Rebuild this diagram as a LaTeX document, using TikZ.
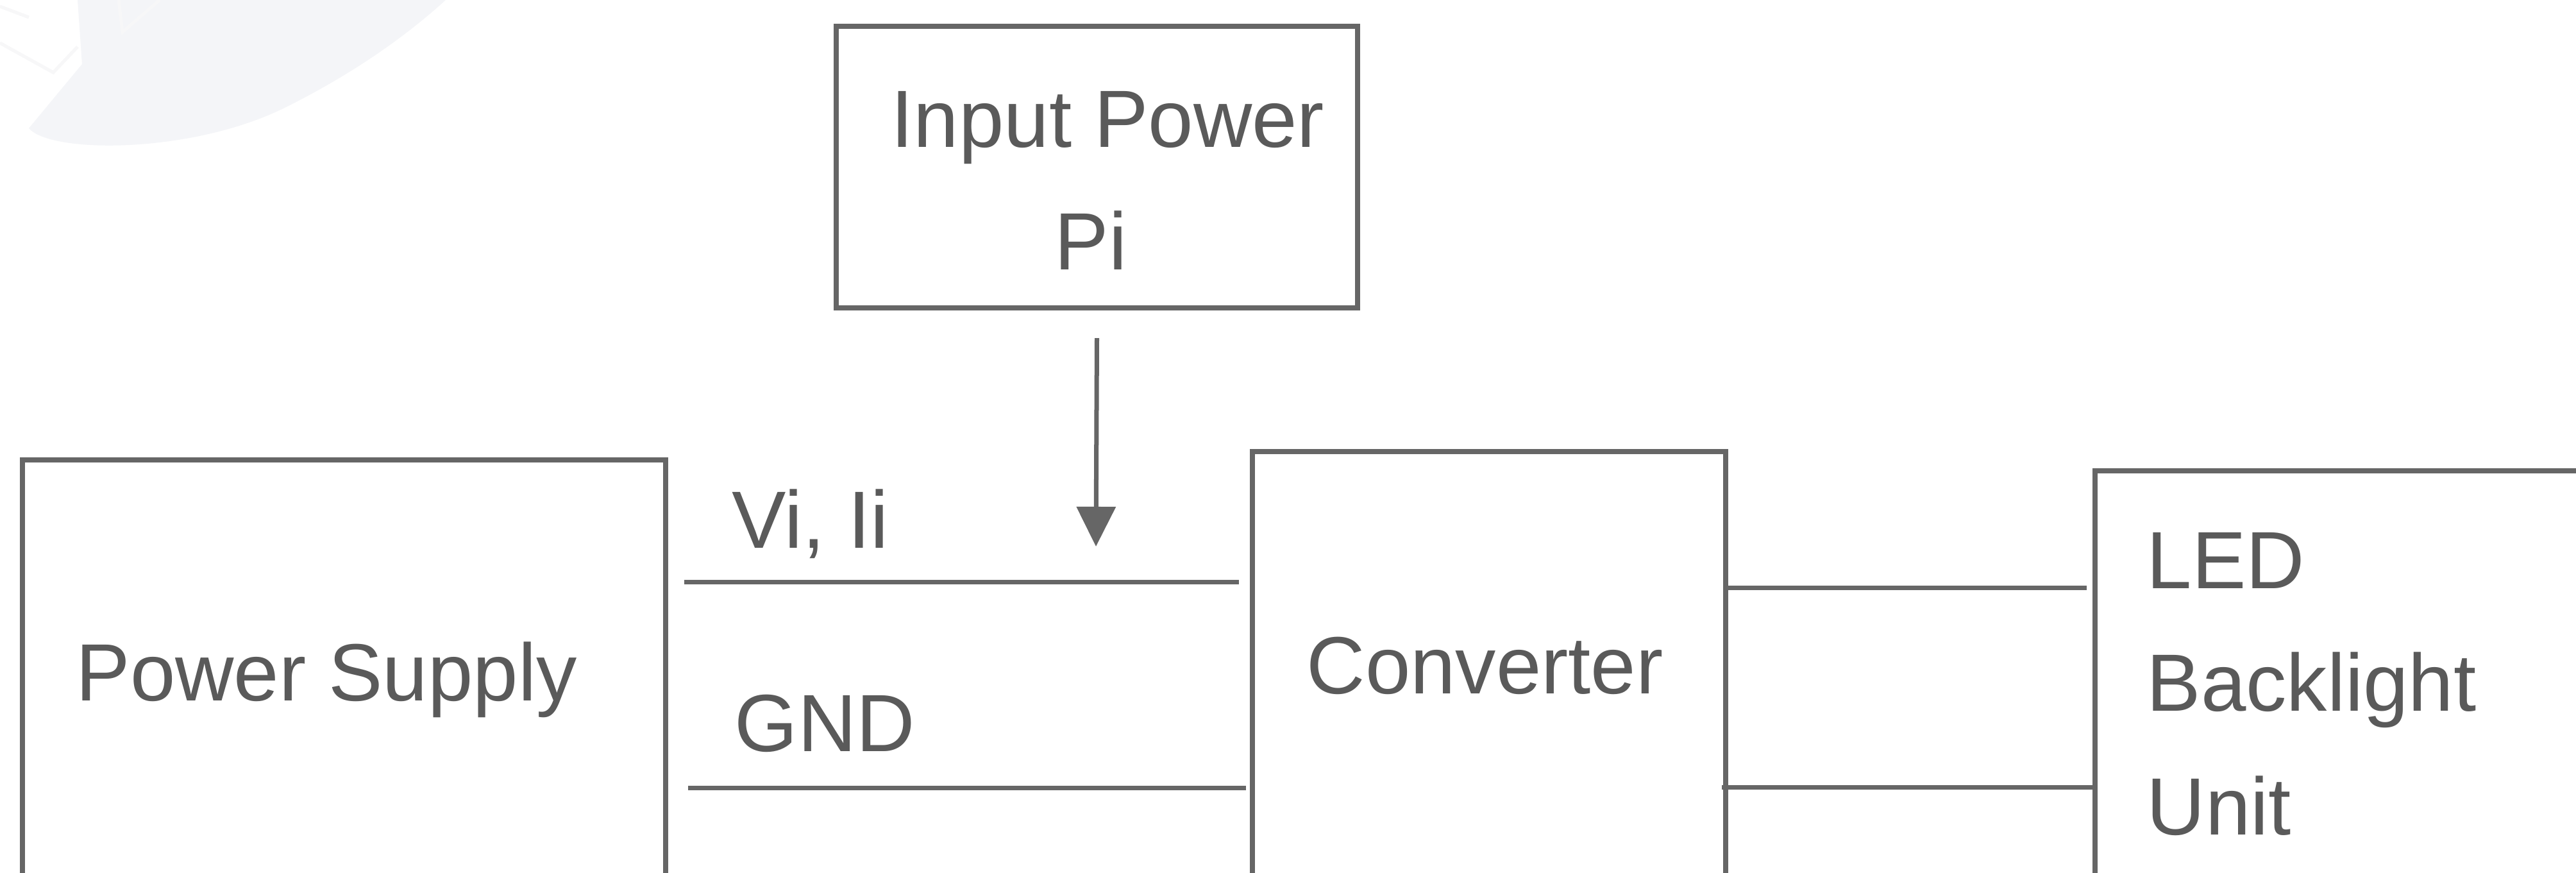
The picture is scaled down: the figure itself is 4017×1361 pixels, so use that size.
\documentclass[tikz,border=0pt]{standalone}
\usepackage{fontspec}
\setmainfont{Liberation Sans}
\usetikzlibrary{arrows.meta,calc}
\definecolor{linegray}{HTML}{666666}
\definecolor{textgray}{HTML}{5A5A5A}
\definecolor{wmfill}{HTML}{F4F5F8}
\definecolor{wmline}{HTML}{F7F7F8}
\begin{document}
\begin{tikzpicture}[x=0.01cm, y=-0.01cm,
	block/.style={draw=linegray, line width=0.08cm, inner sep=0},
	wire/.style={draw=linegray, line width=0.07cm},
	arrow/.style={draw=linegray, line width=0.07cm, -{Triangle[length=0.62cm, width=0.6cm]}},
	lbl/.style={text=textgray, inner sep=0, anchor=base west, font=\fontsize{36}{54}\selectfont}]
	\useasboundingbox (0,0) rectangle (4017,1361);
	\clip (0,0) rectangle (4017,1361);
	\fill[white] (0,0) rectangle (4017,1361);
	% faint watermark
	\fill[wmfill] (121,0) -- (128,100) -- (45,200) .. controls (80,240) and (300,240) .. (446,167) .. controls (560,110) and (640,50) .. (695,0) -- cycle;
	\draw[wmline, line width=0.05cm] (0,10) -- (45,27) (0,67) -- (83,113) -- (121,73) (185,0) -- (191,50) -- (249,0);
	% boxes
	\node[block, minimum width=10.03cm, minimum height=6.68cm] (ps) at (536.5,1051) {};
	\node[block, minimum width=7.38cm, minimum height=6.8cm] (conv) at (2322,1044) {};
	\node[block, minimum width=8.33cm, minimum height=6.63cm] (led) at (3683.5,1065.5) {};
	\node[block, minimum width=8.13cm, minimum height=4.39cm] (inp) at (1710.5,260.5) {};
	% texts
	\node[lbl] (pstext) at (118,1092) {Power Supply};
	\node[lbl] (convtext) at (2037,1081) {Converter};
	\node[lbl] (inptext) at (1389,230) {Input Power};
	\node[lbl] (pitext) at (1644,421) {Pi};
	\node[lbl] (ledtext) at (3347,917) {LED};
	\node[lbl] (bltext) at (3347,1108) {Backlight};
	\node[lbl] (unittext) at (3347,1301) {Unit};
	\node[lbl] (vitext) at (1141,854) {Vi, Ii};
	\node[lbl] (gndtext) at (1145,1171) {GND};
	% wires
	\coordinate (vi) at (0,907);
	\coordinate (gnd) at (0,1228);
	\coordinate (out1) at (0,916);
	\coordinate (out2) at (0,1227);
	\coordinate (tip) at (1709,852);
	\draw[wire, shorten <=0.25cm, shorten >=0.17cm] (ps.east |- vi) -- (conv.west |- vi);
	\draw[wire, shorten <=0.31cm, shorten >=0.06cm] (ps.east |- gnd) -- (conv.west |- gnd);
	\draw[wire, shorten >=0.09cm] (conv.east |- out1) -- (led.west |- out1);
	\draw[wire, shorten <=-0.1cm] (conv.east |- out2) -- (led.west |- out2);
	\draw[arrow] ([yshift=-0.43cm]inp.south) -- (tip);
\end{tikzpicture}
\end{document}
